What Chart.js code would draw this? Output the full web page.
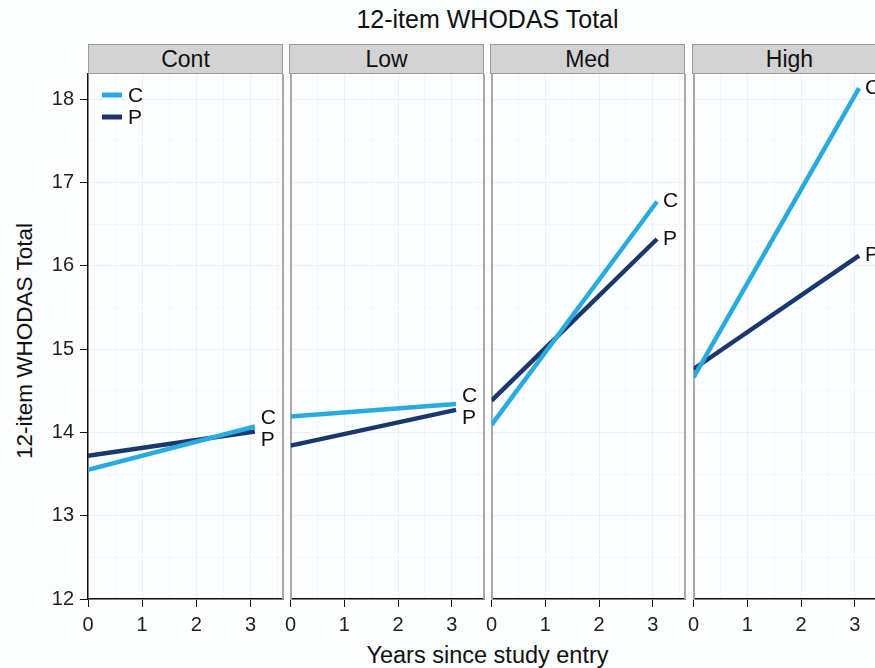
<!DOCTYPE html>
<html>
<head>
<meta charset="utf-8">
<script src="https://cdn.jsdelivr.net/npm/chart.js"></script>
<style>
  html, body { margin: 0; padding: 0; background: #fcfdfe; overflow: hidden; }
  body { width: 875px; height: 668px; position: relative; font-family: "Liberation Sans", Arial, sans-serif; color: #111; }
  canvas { position: absolute; }
  .title { position: absolute; left: 0; width: 975px; text-align: center; }
  .strip { position: absolute; top: 44px; height: 30px; box-sizing: border-box; background: #d3d3d3; border: 1px solid #9a9a9a; text-align: center; font-size: 23px; line-height: 28px; }
  .ytitle { position: absolute; left: 25px; top: 341px; font-size: 22.5px; white-space: nowrap; transform: translate(-50%, -50%) rotate(-90deg); }
</style>
</head>
<body>
<div class="title" style="top:5px; font-size:25px">12-item WHODAS Total</div>
<div class="title" style="top:642px; font-size:23.5px">Years since study entry</div>
<div class="ytitle">12-item WHODAS Total</div>

<script>
// facet panels
const panels = ['Cont', 'Low', 'Med', 'High'];
const groups = ['C', 'P'];
const years = [0, 3.08];

// WHODAS totals at the start and end of each line
const contC = [13.55, 14.07];
const contP = [13.72, 14.01];
const lowC = [14.19, 14.34];
const lowP = [13.84, 14.27];
const medC = [14.09, 16.77];
const medP = [14.38, 16.32];
const highC = [14.66, 18.13];
const highP = [14.76, 16.12];

const seriesC = [contC, lowC, medC, highC];
const seriesP = [contP, lowP, medP, highP];

const yTicks = [12, 12.5, 13, 13.5, 14, 14.5, 15, 15.5, 16, 16.5, 17, 17.5, 18];
const xTicks = [0, 0.5, 1, 1.5, 2, 2.5, 3, 3.5];

const colC = '#29abdf';
const colP = '#1a386c';
const font = { family: '"Liberation Sans", Arial, sans-serif', size: 20 };

const panelLeft = [88, 289, 490, 692];
const panelW = 195;
const padT = 20;
const top0 = 74 - padT;
const canvasH = 599 + 40 - top0;

// labels at the end of each line, pushed apart when too close
const endLabels = {
  id: 'endLabels',
  afterDatasetsDraw(chart) {
    const ctx = chart.ctx;
    const pts = chart.data.datasets.map((ds, i) => {
      const meta = chart.getDatasetMeta(i);
      const el = meta.data[meta.data.length - 1];
      return { x: el.x, y: el.y, text: ds.label };
    });
    const gap = 22;
    if (Math.abs(pts[0].y - pts[1].y) < gap) {
      const mid = (pts[0].y + pts[1].y) / 2;
      const up = pts[0].y <= pts[1].y ? 0 : 1;
      pts[up].y = mid - gap / 2;
      pts[1 - up].y = mid + gap / 2;
    }
    ctx.save();
    ctx.font = '21px "Liberation Sans", Arial, sans-serif';
    ctx.fillStyle = '#111';
    ctx.textBaseline = 'middle';
    pts.forEach(p => ctx.fillText(p.text, p.x + 6, p.y));
    ctx.restore();
  }
};

const panelFrame = {
  id: 'panelFrame',
  beforeDraw(chart) {
    const a = chart.chartArea;
    chart.ctx.save();
    chart.ctx.fillStyle = '#fdfeff';
    chart.ctx.fillRect(a.left, a.top, a.right - a.left, a.bottom - a.top);
    chart.ctx.restore();
  },
  afterDraw(chart) {
    const a = chart.chartArea;
    const ctx = chart.ctx;
    ctx.save();
    ctx.strokeStyle = '#a8a8a8';
    ctx.lineWidth = 2;
    ctx.beginPath();
    ctx.moveTo(a.right, a.top);
    ctx.lineTo(a.right, a.bottom);
    ctx.stroke();
    ctx.restore();
  }
};

const legendBox = {
  id: 'legendBox',
  afterDraw(chart) {
    if (chart.options.plugins.legendBox.show !== true) return;
    const a = chart.chartArea;
    const ctx = chart.ctx;
    ctx.save();
    ctx.font = '21px "Liberation Sans", Arial, sans-serif';
    ctx.textBaseline = 'middle';
    chart.data.datasets.forEach((ds, i) => {
      const y = a.top + 21 + i * 22;
      ctx.strokeStyle = ds.borderColor;
      ctx.lineWidth = 5;
      ctx.beginPath();
      ctx.moveTo(a.left + 14, y);
      ctx.lineTo(a.left + 34, y);
      ctx.stroke();
      ctx.fillStyle = '#111';
      ctx.fillText(ds.label, a.left + 40, y + 1);
    });
    ctx.restore();
  }
};

panels.forEach((name, k) => {
  const first = k === 0;
  const padL = first ? 0 : 10;
  const canvas = document.createElement('canvas');
  const w = (first ? panelLeft[0] : padL) + panelW + 40;
  canvas.width = w;
  canvas.height = canvasH;
  canvas.style.left = (first ? 0 : panelLeft[k] - padL) + 'px';
  canvas.style.top = top0 + 'px';
  canvas.style.width = w + 'px';
  canvas.style.height = canvasH + 'px';
  document.body.appendChild(canvas);

  const strip = document.createElement('div');
  strip.className = 'strip';
  strip.style.left = panelLeft[k] + 'px';
  strip.style.width = panelW + 'px';
  strip.textContent = name;
  document.body.appendChild(strip);

  new Chart(canvas, {
    type: 'line',
    data: {
      datasets: [
        { label: groups[0], data: years.map((x, i) => ({ x, y: seriesC[k][i] })), borderColor: colC, borderWidth: 4.5 },
        { label: groups[1], data: years.map((x, i) => ({ x, y: seriesP[k][i] })), borderColor: colP, borderWidth: 4.5 }
      ]
    },
    options: {
      responsive: false,
      animation: false,
      devicePixelRatio: 1,
      layout: { padding: { top: padT, left: padL, right: 40, bottom: 0 } },
      elements: { point: { radius: 0 }, line: { borderCapStyle: 'butt' } },
      plugins: {
        legend: { display: false },
        tooltip: { enabled: false },
        legendBox: { show: first }
      },
      scales: {
        x: {
          type: 'linear', min: 0, max: 3.6,
          afterBuildTicks: s => { s.ticks = xTicks.map(v => ({ value: v })); },
          afterFit: s => { s.height = 40; },
          ticks: { font, color: '#222', padding: 6, autoSkip: false, maxRotation: 0,
            callback: v => Number.isInteger(v) ? v : '' },
          grid: {
            color: c => Number.isInteger(c.tick.value) ? '#eef0f3' : '#f5f6f8',
            tickColor: c => Number.isInteger(c.tick.value) ? '#111' : 'rgba(0,0,0,0)',
            tickLength: 8, lineWidth: 1
          },
          border: { color: '#111', width: 1.5 }
        },
        y: {
          min: 12, max: 18.3,
          afterBuildTicks: s => { s.ticks = yTicks.map(v => ({ value: v })); },
          afterFit: s => { s.width = first ? panelLeft[0] : 0; },
          ticks: { display: first, font, color: '#222', padding: 6,
            callback: v => Number.isInteger(v) ? v : '' },
          grid: {
            color: c => Number.isInteger(c.tick.value) ? '#eef0f3' : '#f5f6f8',
            tickColor: c => (first && Number.isInteger(c.tick.value)) ? '#111' : 'rgba(0,0,0,0)',
            drawTicks: first, tickLength: 8, lineWidth: 1
          },
          border: { color: first ? '#111' : '#a8a8a8', width: first ? 1.5 : 2 }
        }
      }
    },
    plugins: [panelFrame, endLabels, legendBox]
  });
});
</script>
</body>
</html>
